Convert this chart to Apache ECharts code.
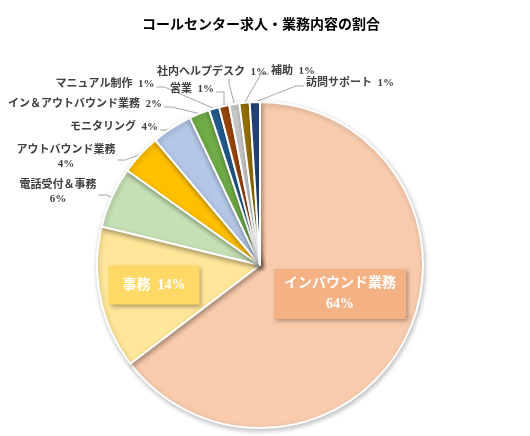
<!DOCTYPE html>
<html>
<head>
<meta charset="utf-8">
<script src="https://cdn.jsdelivr.net/npm/echarts@6/dist/echarts.min.js"></script>
<style>
  html, body { margin: 0; padding: 0; background: #fff; }
  #main { width: 530px; height: 436px; }
</style>
</head>
<body>
<div id="main"></div>
<script>
// data
var names = ['インバウンド業務', '事務', '電話受付＆事務', 'アウトバウンド業務', 'モニタリング',
  'イン＆アウトバウンド業務', 'マニュアル制作', '営業', '社内ヘルプデスク', '補助', '訪問サポート'];
var values = [64, 14, 6, 4, 4, 2, 1, 1, 1, 1, 1];
var colors = ['#F8CBAD', '#FFE699', '#C5E0B4', '#FFC000', '#B4C7E7',
  '#70AD47', '#255E91', '#9E480E', '#D0D0D0', '#997300', '#264478'];

// label placement: [x, y, side the leader line attaches to]
var labelPos = [
  [340, 294, 'none'], [154, 285, 'none'],
  [58, 192, 'right'], [66, 157, 'right'], [114, 127, 'right'],
  [85, 104, 'right'], [105, 84, 'right'], [192, 89, 'right'],
  [212, 72, 'bottom'], [293, 71, 'left'], [350, 83, 'left']
];

var font = "'Liberation Serif', 'Noto Sans CJK JP'";

var data = names.map(function (n, i) {
  var item = { name: n, value: values[i], itemStyle: { color: colors[i] } };
  if (i < 2) {
    item.label = {
      position: 'inside',
      formatter: i == 0 ? '{b}\n{c}%' : '{b}  {c}%',
      color: '#fff',
      fontSize: 14,
      lineHeight: 21,
      backgroundColor: i == 0 ? '#F4B183' : '#FFD966',
      padding: i == 0 ? [4, 10] : [9, 14],
      shadowBlur: 4,
      shadowOffsetX: 2,
      shadowOffsetY: 2,
      shadowColor: 'rgba(0,0,0,0.3)'
    };
    item.labelLine = { show: false };
  }
  return item;
});

var myChart = echarts.init(document.getElementById('main'));
var option = {
  animation: false,
  title: {
    text: 'コールセンター求人・業務内容の割合',
    left: 137,
    top: 13,
    textStyle: { fontFamily: font, fontSize: 14, fontWeight: 'bold', color: '#000' }
  },
  series: [{
    type: 'pie',
    center: [260, 265],
    radius: 163,
    startAngle: 90,
    data: data,
    itemStyle: {
      borderColor: '#fff',
      borderWidth: 2,
      shadowBlur: 5,
      shadowOffsetX: 1,
      shadowOffsetY: 2,
      shadowColor: 'rgba(0,0,0,0.25)'
    },
    label: {
      formatter: function (p) {
        return (p.dataIndex == 2 || p.dataIndex == 3) ? p.name + '\n' + p.value + '%' : p.name + '  ' + p.value + '%';
      },
      overflow: 'none',
      edgeDistance: 0,
      fontFamily: font,
      fontSize: 11,
      fontWeight: 'bold',
      color: '#404040',
      lineHeight: 14
    },
    labelLine: {
      length: 10,
      length2: 10,
      lineStyle: { color: '#A6A6A6', width: 1 }
    },
    labelLayout: function (params) {
      var pos = labelPos[params.dataIndex];
      var w = params.labelRect.width, h = params.labelRect.height;
      var res = { x: pos[0], y: pos[1], align: 'center', verticalAlign: 'middle' };
      var pts = params.labelLinePoints;
      if (pos[2] != 'none' && pts) {
        var end, mid;
        if (pos[2] == 'right') {
          end = [pos[0] + w / 2 + 2, pos[1] + 3];
          mid = [end[0] + 8, end[1]];
        } else if (pos[2] == 'left') {
          end = [pos[0] - w / 2 - 2, pos[1] + 3];
          mid = [end[0] - 8, end[1]];
        } else {
          end = [pos[0] + 17, pos[1] + h / 2];
          mid = [end[0], end[1] + 4];
        }
        res.labelLinePoints = [pts[0], mid, end];
      }
      return res;
    }
  }]
};
myChart.setOption(option);
</script>
</body>
</html>
